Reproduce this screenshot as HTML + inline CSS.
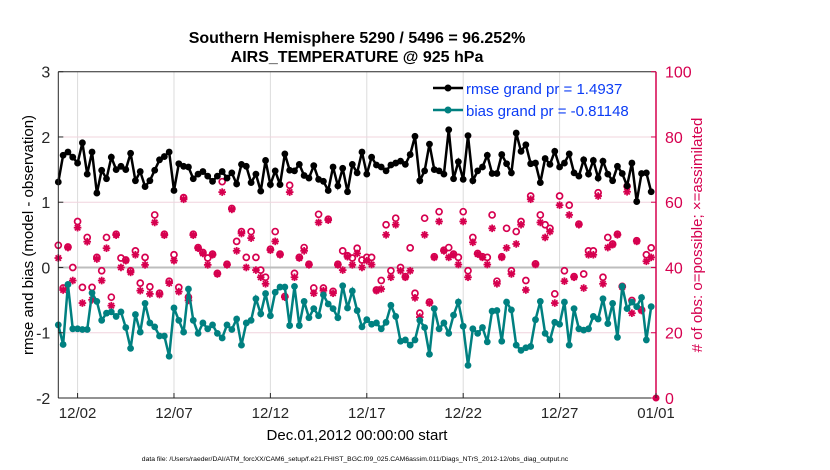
<!DOCTYPE html>
<html><head><meta charset="utf-8"><style>
html,body{margin:0;padding:0;background:#fff;}
svg{display:block;font-family:"Liberation Sans",Arial,sans-serif;}
</style></head><body>
<svg id="chart" width="830" height="470" viewBox="0 0 830 470" xmlns="http://www.w3.org/2000/svg">
<rect width="830" height="470" fill="#fff"/>
<g id="grid"></g>
<g id="series"></g>
<g id="axes"></g>
<text x="357" y="43" text-anchor="middle" font-size="16" font-weight="bold">Southern Hemisphere 5290 / 5496 = 96.252%</text>
<text x="357" y="62" text-anchor="middle" font-size="16" font-weight="bold">AIRS_TEMPERATURE @ 925 hPa</text>
<text transform="translate(33,235) rotate(-90)" text-anchor="middle" font-size="15">rmse and bias (model - observation)</text>
<text transform="translate(702,235) rotate(-90)" text-anchor="middle" font-size="15" fill="#d6004f"># of obs: o=possible; ×=assimilated</text>
<text x="357" y="440" text-anchor="middle" font-size="15">Dec.01,2012 00:00:00 start</text>
<text x="355" y="461" text-anchor="middle" font-size="6.8">data file: /Users/raeder/DAI/ATM_forcXX/CAM6_setup/f.e21.FHIST_BGC.f09_025.CAM6assim.011/Diags_NTrS_2012-12/obs_diag_output.nc</text>
<g>
<line x1="433" y1="88" x2="463" y2="88" stroke="#000" stroke-width="2.5"/><circle cx="448" cy="88" r="3.5" fill="#000"/>
<text x="466" y="94" font-size="15" fill="#0b3cf5">rmse grand pr = 1.4937</text>
<line x1="433" y1="110" x2="463" y2="110" stroke="#008080" stroke-width="2.5"/><circle cx="448" cy="110" r="3.5" fill="#008080"/>
<text x="466" y="116" font-size="15" fill="#0b3cf5">bias grand pr = -0.81148</text>
</g>
</svg>
<script>
const rmse=[1.31,1.72,1.77,1.69,1.60,1.91,1.43,1.77,1.14,1.49,1.36,1.69,1.50,1.55,1.50,1.75,1.33,1.47,1.24,1.33,1.49,1.65,1.70,1.77,1.18,1.59,1.55,1.54,1.36,1.43,1.47,1.40,
1.32,1.40,1.47,1.37,1.45,1.28,1.58,1.55,1.30,1.43,1.17,1.64,1.27,1.48,1.27,1.74,1.49,1.48,1.58,1.41,1.37,1.56,1.35,1.32,1.18,1.54,1.25,1.52,1.16,1.58,1.45,1.77,
1.43,1.69,1.57,1.54,1.48,1.57,1.60,1.63,1.58,1.73,2.01,1.33,1.48,1.89,1.50,1.48,1.43,2.11,1.36,1.62,1.35,2.02,1.33,1.48,1.54,1.72,1.44,1.44,1.73,1.59,1.45,2.06,
1.78,1.88,1.59,1.60,1.30,1.67,1.58,1.78,1.54,1.60,1.74,1.45,1.40,1.65,1.43,1.64,1.37,1.63,1.43,1.33,1.55,1.44,1.25,1.60,1.01,1.44,1.45,1.16];
const bias=[-0.88,-1.18,-0.26,-0.94,-0.94,-0.95,-0.95,-0.39,-0.52,-0.81,-0.70,-0.68,-0.75,-0.68,-0.92,-1.24,-0.72,-0.99,-0.55,-0.85,-0.91,-1.05,-1.05,-1.36,-0.62,-0.81,-0.99,-0.33,-0.81,-1.01,-0.85,-0.94,
-0.88,-1.01,-1.08,-0.88,-0.95,-0.79,-1.19,-0.85,-0.81,-0.48,-0.71,-0.40,-0.74,-0.38,-0.30,-0.30,-0.89,-0.29,-0.89,-0.52,-0.77,-0.63,-0.74,-0.42,-0.56,-0.63,-0.77,-0.28,-0.62,-0.36,-0.66,-0.91,
-0.80,-0.87,-0.85,-0.94,-0.84,-0.58,-0.75,-1.13,-1.11,-1.19,-1.11,-0.81,-0.92,-1.33,-0.63,-0.94,-0.85,-1.01,-0.73,-0.53,-0.90,-1.50,-0.94,-1.01,-0.92,-1.14,-0.67,-0.66,-1.13,-0.53,-0.65,-1.19,
-1.27,-1.23,-1.21,-0.80,-0.52,-1.01,-1.11,-0.84,-0.87,-0.53,-1.19,-0.63,-0.94,-0.96,-0.94,-0.75,-0.79,-0.48,-0.86,-0.55,-1.07,-0.29,-0.63,-0.53,-0.60,-0.46,-1.11,-0.60];
const possible=[46.8,33.7,46.3,40.0,54.1,33.9,49.2,33.9,43.1,39.0,49.2,30.9,50.2,42.9,42.3,39.0,45.1,35.2,43.1,34.1,56.1,32.1,50.2,35.8,43.9,33.9,61.4,30.9,50.2,46.1,44.6,42.9,
44.1,38.2,66.3,41.0,58.1,48.0,51.0,43.1,51.0,43.1,39.2,37.0,45.6,51.0,44.1,31.1,65.2,38.2,43.1,46.1,41.0,33.7,56.3,33.7,54.8,32.7,41.0,45.1,43.6,42.9,45.9,42.3,
43.1,43.1,33.1,36.0,53.1,39.0,55.1,40.0,37.2,46.0,32.1,26.0,55.1,29.4,43.3,57.1,45.3,46.1,44.1,43.1,57.1,39.0,49.2,44.3,43.3,43.1,56.1,35.8,43.3,52.0,39.0,51.0,
54.1,36.0,61.9,41.1,56.1,53.1,52.0,31.9,61.9,39.0,59.1,37.2,53.3,38.0,45.1,45.1,62.9,37.0,49.2,47.2,50.2,34.2,64.9,29.9,48.2,27.0,43.9,46.0];
const assimilated=[42.9,33.1,46.1,36.0,52.2,29.1,47.9,30.1,42.6,36.0,45.9,28.3,49.9,40.0,42.1,38.5,43.9,32.9,40.8,31.9,53.8,31.7,49.9,35.2,42.1,32.6,60.9,29.9,49.9,45.9,44.3,40.8,
43.9,38.0,63.1,40.8,57.8,45.1,50.4,40.0,49.0,39.2,37.0,35.0,45.3,48.0,43.9,30.9,63.1,37.0,42.9,45.1,40.8,32.1,53.8,32.9,54.5,32.1,40.8,39.2,43.3,40.8,44.3,40.0,
42.1,40.9,32.9,33.4,50.0,37.0,53.1,39.0,37.0,39.0,30.7,24.8,50.0,29.1,43.1,54.1,45.1,43.1,43.9,40.9,54.1,37.0,47.7,44.1,43.1,40.9,52.0,35.0,43.1,46.0,38.0,47.2,
53.1,33.1,60.9,40.9,53.8,49.2,51.0,29.1,59.1,35.8,56.1,37.0,53.1,33.7,43.9,43.9,61.9,35.0,46.1,47.0,50.0,34.0,63.2,26.0,48.0,26.8,41.9,43.1];
const xTickLabels=["12/02","12/07","12/12","12/17","12/22","12/27","01/01"];
const xTickDays=[1,6,11,16,21,26,31];
const yLeftTicks=[3,2,1,0,-1,-2];
const yRightTicks=[0,20,40,60,80,100];

const NS="http://www.w3.org/2000/svg";
const X0=58.3,X1=656,Y0=398,Y1=71.7;
const xDay=d=>X0+(X1-X0)*d/31;
const xIdx=i=>xDay(i*0.25);
const yL=v=>Y0-(v+2)/5*(Y0-Y1);
const yR=c=>Y0-c/100*(Y0-Y1);
function mk(tag,attrs,parent){const e=document.createElementNS(NS,tag);for(const k in attrs)e.setAttribute(k,attrs[k]);parent.appendChild(e);return e;}
const grid=document.getElementById('grid'),ser=document.getElementById('series'),ax=document.getElementById('axes');

xTickDays.forEach((d,k)=>{
  if(d<31){const l=mk('line',{x1:xDay(d),x2:xDay(d),y1:Y1,y2:Y0,stroke:'#dcdcdc','stroke-width':1},grid);
  
  }
});
yRightTicks.forEach(c=>{
  if(c>0&&c<100){const l=mk('line',{x1:X0,x2:X1,y1:yR(c),y2:yR(c),stroke:c===40?'#bdbdbd':'#f0d4de','stroke-width':c===40?2:1},grid);
  
  }
});

function star(cx,cy,g){const r=3.8;for(let a=0;a<4;a++){const t=a*Math.PI/4;mk('line',{x1:cx-r*Math.cos(t),y1:cy-r*Math.sin(t),x2:cx+r*Math.cos(t),y2:cy+r*Math.sin(t),stroke:'#d6004f','stroke-width':1.8},g);}}
possible.forEach((c,i)=>{
  const o=mk('circle',{cx:xIdx(i),cy:yR(c),r:3,fill:'#fff',stroke:'#d6004f','stroke-width':1.7},ser);
  
  
});
assimilated.forEach((c,i)=>{
  const g=mk('g',{},ser);
  
  
  star(xIdx(i),yR(c),g);
});
function drawLine(arr,color,name){
  const p=mk('polyline',{points:arr.map((v,i)=>xIdx(i)+','+yL(v)).join(' '),fill:'none',stroke:color,'stroke-width':2.5},ser);
  
  
  arr.forEach((v,i)=>{const c=mk('circle',{cx:xIdx(i),cy:yL(v),r:3.4,fill:color},ser);
  
  });
}
drawLine(bias,'#008080','bias');
drawLine(rmse,'#000','rmse');

let e=mk('line',{x1:X0,x2:X0,y1:Y1,y2:Y0,stroke:'#262626','stroke-width':1},ax);


e=mk('line',{x1:X0,x2:X1,y1:Y0,y2:Y0,stroke:'#262626','stroke-width':1},ax);


e=mk('line',{x1:X0,x2:X1,y1:Y1,y2:Y1,stroke:'#262626','stroke-width':1},ax);


e=mk('line',{x1:X1,x2:X1,y1:Y1,y2:Y0,stroke:'#d6004f','stroke-width':1.5},ax);


e=mk('circle',{cx:X1,cy:Y0,r:3.5,fill:'#d6004f'},ax);


yLeftTicks.forEach(v=>{
  mk('line',{x1:X0,x2:X0+5,y1:yL(v),y2:yL(v),stroke:'#262626'},ax);
  const t=mk('text',{x:X0-8,y:yL(v)+6,'text-anchor':'end','font-size':16,fill:'#262626'},ax);
  t.textContent=v;
  
  
});
yRightTicks.forEach(c=>{
  mk('line',{x1:X1-5,x2:X1,y1:yR(c),y2:yR(c),stroke:'#d6004f'},ax);
  const t=mk('text',{x:X1+9,y:yR(c)+6,'font-size':16,fill:'#d6004f'},ax);
  t.textContent=c;
  
  
});
xTickDays.forEach((d,k)=>{
  mk('line',{x1:xDay(d),x2:xDay(d),y1:Y0,y2:Y0-5,stroke:'#262626'},ax);
  const t=mk('text',{x:xDay(d),y:Y0+20,'text-anchor':'middle','font-size':15,fill:'#262626'},ax);
  t.textContent=xTickLabels[k];
  
  
});
</script>
</body></html>
